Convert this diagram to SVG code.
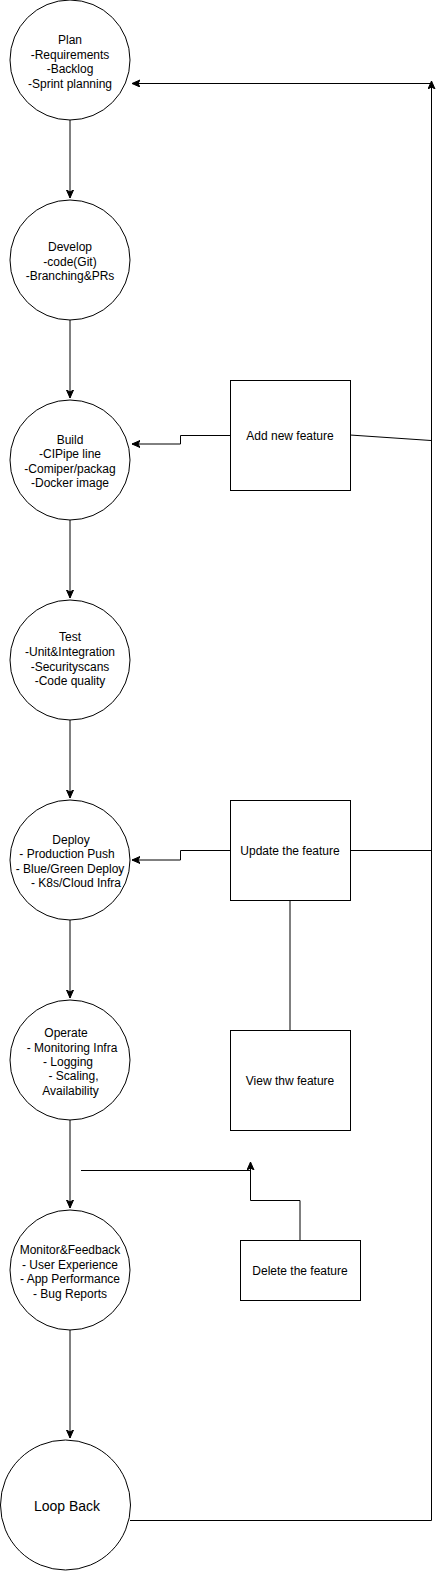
<svg xmlns="http://www.w3.org/2000/svg" width="440" height="1571" viewBox="0 0 440 1571">
<style>
.n{fill:#fff;stroke:#000;stroke-width:1}
.t{font-family:"Liberation Sans",Arial,sans-serif;font-size:12px;fill:#000;text-anchor:middle}
.c{fill:none;stroke:#000;stroke-width:1}
</style>
<defs>
<marker id="a" markerUnits="userSpaceOnUse" markerWidth="10" markerHeight="8" refX="8" refY="3.5" orient="auto">
<path d="M0,0 L8,3.5 L0,7 L2,3.5 z" fill="#000" stroke="#000" stroke-width="1"/>
</marker>
</defs>
<rect width="440" height="1571" fill="#fff"/>
<g id="connectors">
<path class="c" d="M70,120 V198" marker-end="url(#a)"/>
<path class="c" d="M70,320 V398" marker-end="url(#a)"/>
<path class="c" d="M70,520 V598" marker-end="url(#a)"/>
<path class="c" d="M70,720 V798" marker-end="url(#a)"/>
<path class="c" d="M70,920 V998" marker-end="url(#a)"/>
<path class="c" d="M70,1120 V1208" marker-end="url(#a)"/>
<path class="c" d="M70,1330 V1438" marker-end="url(#a)"/>
<path class="c" d="M230,435.5 H180.5 V444 H132" marker-end="url(#a)"/>
<path class="c" d="M350,435 L431,440.5"/>
<path class="c" d="M230,850.5 H180.5 V860 H132" marker-end="url(#a)"/>
<path class="c" d="M350,850.5 H431"/>
<path class="c" d="M290,900 V1030"/>
<path class="c" d="M81,1170.5 H250"/>
<path class="c" d="M300,1240 V1200.5 H250.5 V1162" marker-end="url(#a)"/>
<path class="c" d="M130,1520.5 H431.5 V81" marker-end="url(#a)"/>
<path class="c" d="M431.5,83.5 H132" marker-end="url(#a)"/>
</g>
<g id="plan">
<circle class="n" cx="70" cy="60" r="60"/>
<text class="t" x="70" y="44">Plan</text>
<text class="t" x="70" y="58.5">-Requirements</text>
<text class="t" x="70" y="73">-Backlog</text>
<text class="t" x="70" y="87.5">-Sprint planning</text>
</g>
<g id="develop">
<circle class="n" cx="70" cy="260" r="60"/>
<text class="t" x="70" y="251">Develop</text>
<text class="t" x="70" y="265.5">-code(Git)</text>
<text class="t" x="70" y="280">-Branching&amp;PRs</text>
</g>
<g id="build">
<circle class="n" cx="70" cy="460" r="60"/>
<text class="t" x="70" y="444">Build</text>
<text class="t" x="70" y="458">-CIPipe line</text>
<text class="t" x="70" y="472.5">-Comiper/packag</text>
<text class="t" x="70" y="487">-Docker image</text>
</g>
<g id="test">
<circle class="n" cx="70" cy="660" r="60"/>
<text class="t" x="70" y="641">Test</text>
<text class="t" x="70" y="656">-Unit&amp;Integration</text>
<text class="t" x="70" y="670.5">-Securityscans</text>
<text class="t" x="70" y="685">-Code quality</text>
</g>
<g id="deploy">
<circle class="n" cx="70" cy="860" r="60"/>
<text class="t" x="71" y="844">Deploy</text>
<text class="t" x="67" y="858">- Production Push</text>
<text class="t" x="70" y="872.5">- Blue/Green Deploy</text>
<text class="t" x="76" y="887">- K8s/Cloud Infra</text>
</g>
<g id="operate">
<circle class="n" cx="70" cy="1060" r="60"/>
<text class="t" x="66" y="1037">Operate</text>
<text class="t" x="72" y="1051.5">- Monitoring Infra</text>
<text class="t" x="68" y="1066">- Logging</text>
<text class="t" x="73.5" y="1080">- Scaling,</text>
<text class="t" x="70.5" y="1094.5">Availability</text>
</g>
<g id="monitor">
<circle class="n" cx="70" cy="1270" r="60"/>
<text class="t" x="70" y="1254">Monitor&amp;Feedback</text>
<text class="t" x="70" y="1268.5">- User Experience</text>
<text class="t" x="70" y="1283">- App Performance</text>
<text class="t" x="70" y="1297.5">- Bug Reports</text>
</g>
<g id="loopback">
<circle class="n" cx="65.5" cy="1505" r="65"/>
<text class="t" x="67" y="1511" style="font-size:14px">Loop Back</text>
</g>
<g id="add">
<rect class="n" x="230.5" y="380.5" width="120" height="110"/>
<text class="t" x="290" y="440">Add new feature</text>
</g>
<g id="update">
<rect class="n" x="230.5" y="800.5" width="120" height="100"/>
<text class="t" x="290" y="855">Update the feature</text>
</g>
<g id="view">
<rect class="n" x="230.5" y="1030.5" width="120" height="100"/>
<text class="t" x="290" y="1085">View thw feature</text>
</g>
<g id="delete">
<rect class="n" x="240.5" y="1240.5" width="120" height="60"/>
<text class="t" x="300" y="1275">Delete the feature</text>
</g>
</svg>
